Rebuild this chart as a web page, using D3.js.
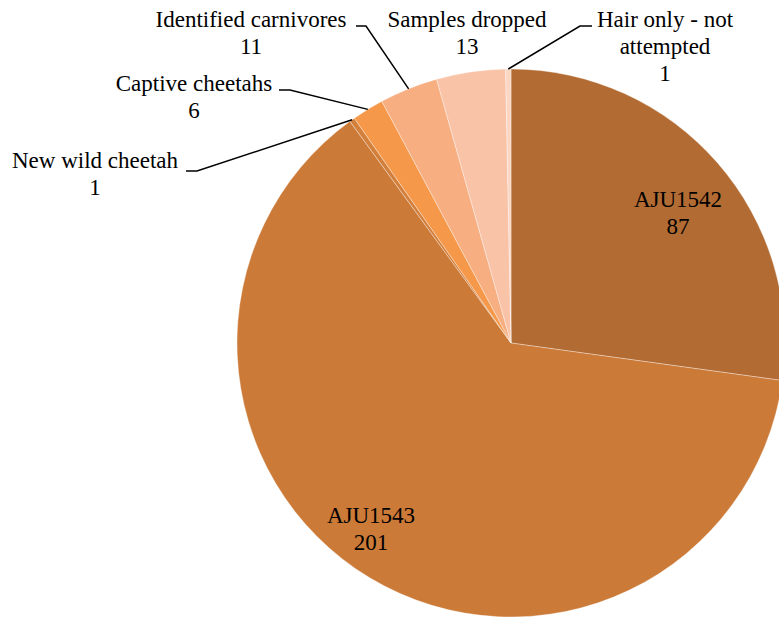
<!DOCTYPE html>
<html>
  <head>
    <meta charset="utf-8" />
    <style>
      body {
        margin: 0;
        background: #fff;
      }
      .leader {
        fill: none;
        stroke: #000;
        stroke-width: 1.5px;
      }
    </style>
  </head>
  <body>
    <svg width="779" height="621"></svg>
    <script src="https://d3js.org/d3.v7.min.js"></script>
    <script>
      var categories = [
        "AJU1542",
        "AJU1543",
        "New wild cheetah",
        "Captive cheetahs",
        "Identified carnivores",
        "Samples dropped",
        "Hair only - not attempted",
      ];
      var values = [87, 201, 1, 6, 11, 13, 1];
      var colors = [
        "#b26b32",
        "#cc7a38",
        "#d3803d",
        "#f59849",
        "#f7ae80",
        "#f9c3a8",
        "#fbd6c3",
      ];

      // label placement (layout only): text lines, centre x, first baseline,
      // and leader elbow/end points when the label sits outside
      var labelLayout = {
        AJU1542: { lines: ["AJU1542"], x: 678, y: 207 },
        AJU1543: { lines: ["AJU1543"], x: 371, y: 523 },
        "New wild cheetah": { lines: ["New wild cheetah"], x: 95, y: 168, elbow: [197, 171], end: [186, 171] },
        "Captive cheetahs": { lines: ["Captive cheetahs"], x: 194, y: 91, elbow: [290, 90], end: [279, 90] },
        "Identified carnivores": { lines: ["Identified carnivores"], x: 251, y: 27, elbow: [366, 26], end: [356, 26] },
        "Samples dropped": { lines: ["Samples dropped"], x: 467, y: 27 },
        "Hair only - not attempted": { lines: ["Hair only - not", "attempted"], x: 665, y: 27, elbow: [580, 26], end: [592, 26] },
      };

      var svg = d3.select("svg"),
        cx = 511,
        cy = 343,
        radius = 274,
        lineH = 27;

      var data = categories.map(function (c, i) {
        return { name: c, value: values[i], color: colors[i] };
      });

      var pie = d3
        .pie()
        .sort(null)
        .value(function (d) {
          return d.value;
        });

      var arc = d3.arc().innerRadius(0).outerRadius(radius);
      var edgeArc = d3.arc().innerRadius(radius).outerRadius(radius);

      var g = svg.append("g").attr("transform", "translate(" + cx + "," + cy + ")");

      var arcs = pie(data);

      g.selectAll("path.slice")
        .data(arcs)
        .enter()
        .append("path")
        .attr("class", "slice")
        .attr("d", arc)
        .attr("fill", function (d) {
          return d.data.color;
        })
        .attr("stroke", "#fff")
        .attr("stroke-opacity", 0.45)
        .attr("stroke-width", 0.75);

      // leader lines
      svg
        .selectAll("path.leader")
        .data(
          arcs.filter(function (d) {
            return labelLayout[d.data.name].elbow;
          })
        )
        .enter()
        .append("path")
        .attr("class", "leader")
        .attr("d", function (d) {
          var lay = labelLayout[d.data.name];
          var p = edgeArc.centroid(d);
          return d3.line()([[p[0] + cx, p[1] + cy], lay.elbow, lay.end]);
        });

      // labels: one text element per line
      var labelLines = [];
      arcs.forEach(function (d) {
        var lay = labelLayout[d.data.name];
        lay.lines.concat([String(d.data.value)]).forEach(function (l, i) {
          labelLines.push({ text: l, x: lay.x, y: lay.y + i * lineH });
        });
      });

      svg
        .selectAll("text")
        .data(labelLines)
        .enter()
        .append("text")
        .attr("x", function (d) {
          return d.x;
        })
        .attr("y", function (d) {
          return d.y;
        })
        .attr("text-anchor", "middle")
        .style("font-family", "'Liberation Serif'")
        .style("font-size", "23px")
        .text(function (d) {
          return d.text;
        });
    </script>
  </body>
</html>
